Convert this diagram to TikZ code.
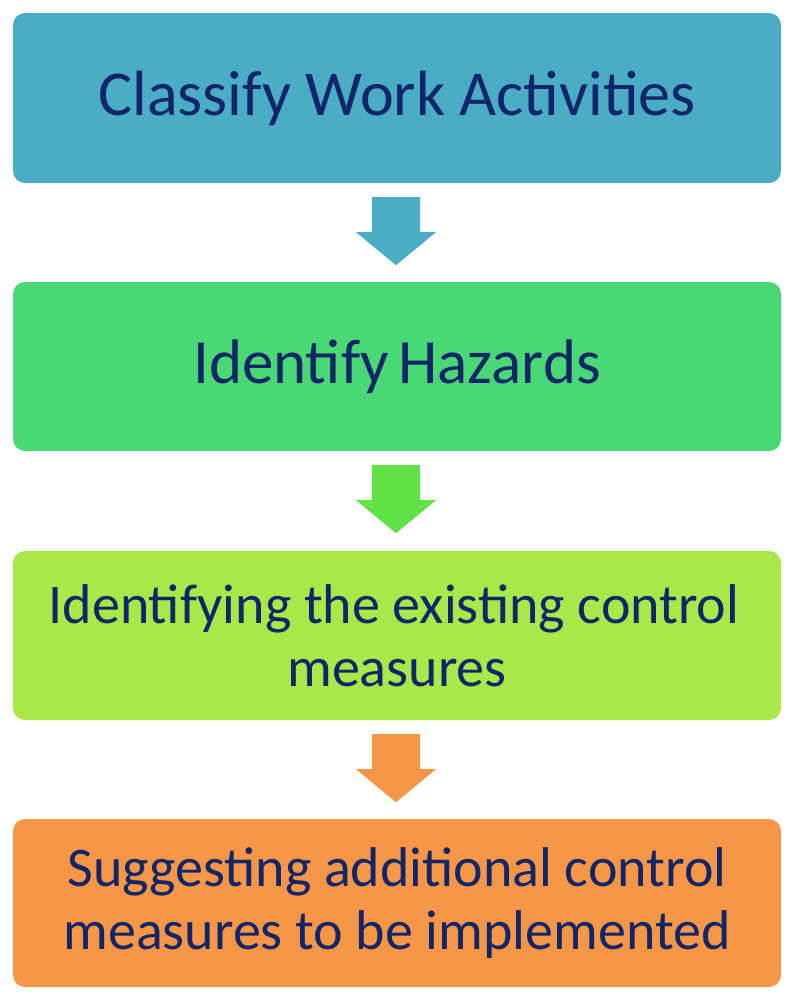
\documentclass[tikz,border=0pt]{standalone}
\usepackage{fontspec}
\setmainfont{Carlito}
\usetikzlibrary{positioning, calc}
\definecolor{stepteal}{RGB}{75, 172, 198}
\definecolor{stepgreen}{RGB}{74, 216, 116}
\definecolor{arrowgreen}{RGB}{96, 226, 70}
\definecolor{steplime}{RGB}{168, 232, 72}
\definecolor{steporange}{RGB}{247, 150, 70}
\definecolor{textnavy}{RGB}{16, 38, 104}
\tikzset{
    stepbox/.style={rectangle, rounded corners=12pt, minimum width=768pt, minimum height=169pt, align=center, text=textnavy, inner sep=0pt},
}
\newcommand{\downarrowblock}[2]{%
  \fill[#2] ($(#1.south)+(-25,14)$) -- ++(48,0) -- ++(0,35) -- ++(16,0)
    -- ($(#1.south)+(-1,82)$) -- ($(#1.south)+(-41,49)$) -- ++(16,0) -- cycle;}

\begin{document}
\begin{tikzpicture}[x=1pt, y=-1pt]
    \useasboundingbox (0,0) rectangle (800,1002);

    % === Steps ===
    \node[stepbox, fill=stepteal, minimum height=170pt, font=\fontsize{64}{77}\selectfont] (classify) at (397, 98) {\raisebox{3pt}{Classify Work Activities}};
    \node[stepbox, fill=stepgreen, font=\fontsize{63}{71}\selectfont] (hazards) at (397, 366.5) {Identify\hspace{0.15em}Hazards};
    \node[stepbox, fill=steplime, font=\fontsize{56}{63}\selectfont] (existing) at (397, 635.5) {Identifying the existing control\hspace*{6pt}\\measures};
    \node[stepbox, fill=steporange, minimum height=168pt, font=\fontsize{56}{63}\selectfont] (additional) at (397, 903) {Suggesting additional control\\measures to be implemented};

    % === Block arrows ===
    \downarrowblock{classify}{stepteal}
    \downarrowblock{hazards}{arrowgreen}
    \downarrowblock{existing}{steporange}
\end{tikzpicture}
\end{document}
